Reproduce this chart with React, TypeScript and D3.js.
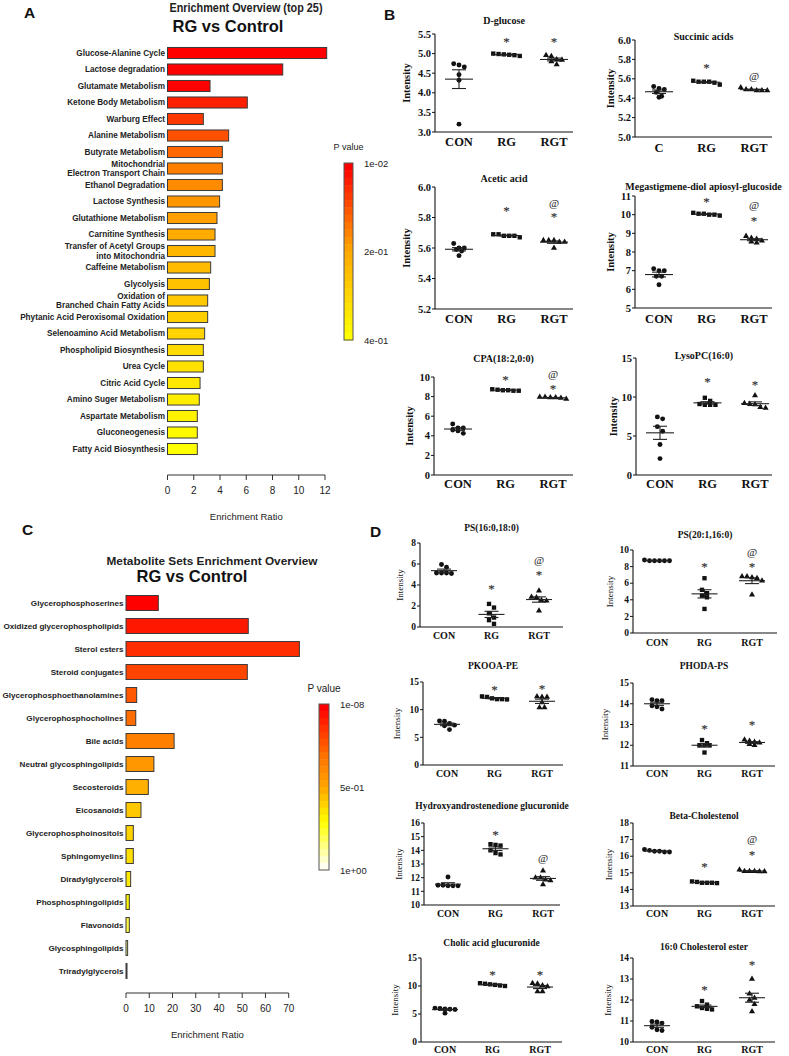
import React from 'react';
import * as d3 from 'd3';

// ---------- panel A data ----------
const pathwaysA = [
  'Glucose-Alanine Cycle', 'Lactose degradation', 'Glutamate Metabolism', 'Ketone Body Metabolism',
  'Warburg Effect', 'Alanine Metabolism', 'Butyrate Metabolism', 'Mitochondrial\nElectron Transport Chain',
  'Ethanol Degradation', 'Lactose Synthesis', 'Glutathione Metabolism', 'Carnitine Synthesis',
  'Transfer of Acetyl Groups\ninto Mitochondria', 'Caffeine Metabolism', 'Glycolysis',
  'Oxidation of\nBranched Chain Fatty Acids', 'Phytanic Acid Peroxisomal Oxidation',
  'Selenoamino Acid Metabolism', 'Phospholipid Biosynthesis', 'Urea Cycle', 'Citric Acid Cycle',
  'Amino Suger Metabolism', 'Aspartate Metabolism', 'Gluconeogenesis', 'Fatty Acid Biosynthesis',
];
const ratiosA = [
  12.13, 8.78, 3.24, 6.08, 2.73, 4.66, 4.18, 4.18, 4.18, 3.97, 3.77, 3.62, 3.62,
  3.29, 3.19, 3.06, 3.06, 2.83, 2.73, 2.73, 2.48, 2.42, 2.27, 2.27, 2.27,
];
const ticksA = [0, 2, 4, 6, 8, 10, 12];
const legendA = ['1e-02', '2e-01', '4e-01'];

// ---------- panel C data ----------
const setsC = [
  'Glycerophosphoserines', 'Oxidized glycerophospholipids', 'Sterol esters', 'Steroid conjugates',
  'Glycerophosphoethanolamines', 'Glycerophosphocholines', 'Bile acids', 'Neutral glycosphingolipids',
  'Secosteroids', 'Eicosanoids', 'Glycerophosphoinositols', 'Sphingomyelins', 'Diradylglycerols',
  'Phosphosphingolipids', 'Flavonoids', 'Glycosphingolipids', 'Triradylglycerols',
];
const ratiosC = [13.9, 52.6, 74.6, 52.2, 4.6, 4.2, 20.7, 12.0, 9.6, 6.45, 3.15, 3.15, 2.0, 1.43, 1.43, 0.7, 0.43];
const ticksC = [0, 10, 20, 30, 40, 50, 60, 70];
const legendC = ['1e-08', '5e-01', '1e+00'];

// ---------- panel B / D data (CON, RG, RGT; n = 6) ----------
const groups = ['CON', 'RG', 'RGT'];
const groupsSuccinic = ['C', 'RG', 'RGT'];

const dGlucose = [[4.74, 4.71, 4.66, 4.46, 4.32, 3.2], [4.99, 4.98, 4.96, 4.94, 4.97, 5.0], [4.96, 4.93, 4.85, 4.8, 4.72, 4.84]];
const dGlucoseStar = [null, 5.37, 5.37];
const dGlucoseAt = [null, null, null];

const succinic = [[5.5, 5.49, 5.52, 5.46, 5.41, 5.42], [5.57, 5.57, 5.56, 5.54, 5.57, 5.58], [5.49, 5.48, 5.48, 5.48, 5.49, 5.51]];
const succinicStar = [null, 5.74, null];
const succinicAt = [null, null, 5.62];

const acetic = [[5.63, 5.6, 5.59, 5.6, 5.58, 5.55], [5.69, 5.68, 5.68, 5.67, 5.68, 5.69], [5.65, 5.65, 5.64, 5.64, 5.65, 5.6]];
const aceticStar = [null, 5.86, 5.82];
const aceticAt = [null, null, 5.89];

const megastigmene = [[7.0, 7.1, 7.0, 6.7, 6.7, 6.25], [10.05, 10.0, 9.95, 10.0, 10.05, 10.1], [8.85, 8.7, 8.5, 8.6, 8.55, 8.75]];
const megastigmeneStar = [null, 10.8, 9.8];
const megastigmeneAt = [null, null, 10.5];

const cpa = [[5.2, 4.8, 4.8, 4.6, 4.25, 4.5], [8.7, 8.65, 8.6, 8.6, 8.65, 8.75], [7.95, 7.9, 7.75, 7.85, 7.9, 7.95]];
const cpaStar = [null, 9.9, 9.0];
const cpaAt = [null, null, 10.2];

const lysoPC = [[7.45, 7.2, 6.2, 5.6, 3.9, 2.1], [9.5, 9.9, 9.0, 9.0, 9.0, 9.1], [10.2, 9.2, 9.05, 8.7, 8.6, 9.1]];
const lysoPCStar = [null, 12.2, 11.9];
const lysoPCAt = [null, null, null];

const ps16 = [[5.95, 5.7, 5.15, 5.15, 5.15, 5.1], [2.2, 1.85, 1.3, 0.9, 0.65, 0.3], [3.45, 2.85, 2.8, 2.55, 2.5, 1.55]];
const ps16Star = [null, 3.9, 5.2];
const ps16At = [null, null, 6.3];

const ps20 = [[8.7, 8.7, 8.7, 8.7, 8.7, 8.8], [6.6, 5.2, 4.8, 4.5, 4.3, 2.9], [6.8, 6.8, 6.7, 6.6, 6.3, 4.6]];
const ps20Star = [null, 8.2, 8.2];
const ps20At = [null, null, 9.7];

const pkooa = [[7.9, 7.95, 7.5, 7.2, 7.1, 6.4], [12.3, 11.9, 11.85, 11.9, 12.05, 12.4], [12.3, 12.3, 12.4, 11.3, 10.4, 10.4]];
const pkooaStar = [null, 14.0, 14.1];
const pkooaAt = [null, null, null];

const phoda = [[14.2, 14.15, 14.15, 13.9, 13.75, 13.85], [12.1, 12.25, 12.0, 12.0, 12.0, 11.65], [12.2, 12.27, 12.16, 12.05, 12.0, 12.12]];
const phodaStar = [null, 12.92, 13.08];
const phodaAt = [null, null, null];

const hydroxy = [[12.05, 11.45, 11.4, 11.4, 11.45, 11.4], [14.4, 14.35, 14.45, 14.0, 13.7, 13.8], [12.5, 12.0, 11.85, 11.8, 12.0, 11.5]];
const hydroxyStar = [null, 15.27, null];
const hydroxyAt = [null, null, 13.4];

const betaChol = [[16.35, 16.3, 16.25, 16.25, 16.3, 16.4], [14.45, 14.4, 14.38, 14.4, 14.4, 14.48], [15.1, 15.08, 15.1, 15.08, 15.1, 15.18]];
const betaCholStar = [null, 15.5, 16.2];
const betaCholAt = [null, null, 17.0];

const cholic = [[5.8, 6.05, 5.9, 6.0, 5.15, 5.85], [10.4, 10.3, 10.1, 10.0, 10.2, 10.5], [10.4, 10.5, 9.9, 9.0, 9.0, 10.1]];
const cholicStar = [null, 12.4, 12.4];
const cholicAt = [null, null, null];

const cholEster = [[10.95, 10.9, 10.98, 10.7, 10.58, 10.55], [11.95, 11.62, 11.7, 11.78, 11.55, 11.58], [13.0, 12.3, 12.1, 12.0, 11.8, 11.45]];
const cholEsterStar = [null, 12.6, 13.8];
const cholEsterAt = [null, null, null];

const SANS = "'Liberation Sans', Arial, sans-serif";
const SERIF = "'Liberation Serif', 'Times New Roman', serif";

const colorA = d3.scaleLinear<string>()
  .domain([0, 2, 3, 7, 12, 24])
  .range(['#ff0000', '#ff0000', '#ff2000', '#ff8000', '#ffb600', '#ffff00']);
const colorC = d3.scaleLinear<string>()
  .domain([0, 3, 6, 9, 13, 16])
  .range(['#ff0000', '#ff4400', '#ff8000', '#ffc800', '#fff400', '#ffffc8']);
const legendColorA = d3.scaleLinear<string>().domain([0, 0.5, 1]).range(['#ff0000', '#ffa800', '#ffff00']);
const legendColorC = d3.scaleLinear<string>()
  .domain([0, 0.3, 0.5, 0.72, 1])
  .range(['#ff0000', '#ff7000', '#ffa500', '#ffff00', '#fffff0']);

interface BarProps {
  names: string[]; values: number[]; maxX: number; ticks: number[];
  x0: number; x1: number; y0: number; y1: number; pad: number;
  color: (i: number) => string; axisY: number; fontSize: number;
}

function BarPanel({ names, values, maxX, ticks, x0, x1, y0, y1, pad, color, axisY, fontSize }: BarProps) {
  const x = d3.scaleLinear().domain([0, maxX]).range([x0, x1]);
  const y = d3.scaleBand().domain(names).range([y0, y1]).paddingInner(pad).paddingOuter(pad / 2);
  return (
    <g>
      {names.map((n, i) => {
        const lines = n.split('\n');
        const cy = (y(n) as number) + y.bandwidth() / 2;
        const ty = cy + fontSize * 0.36 - (lines.length - 1) * 4.9;
        return (
          <g key={n}>
            <rect x={x(0)} y={y(n)} width={Math.max(x(values[i]) - x(0), 0.5)} height={y.bandwidth()}
              fill={color(i)} stroke="#3a3a3a" strokeWidth={1} />
            <text y={ty} textAnchor="end" fontFamily={SANS} fontWeight="bold" fontSize={fontSize} fill="#222">
              {lines.map((l, k) => <tspan key={k} x={x(0) - 2.5} dy={k === 0 ? 0 : 9.8}>{l}</tspan>)}
            </text>
          </g>
        );
      })}
      <line x1={x(0)} x2={x(maxX)} y1={axisY} y2={axisY} stroke="#333" />
      {ticks.map(t => (
        <g key={t}>
          <line x1={x(t)} x2={x(t)} y1={axisY} y2={axisY + 5} stroke="#333" />
          <text x={x(t)} y={axisY + 19} textAnchor="middle" fontFamily={SANS} fontSize={10} fill="#222">{t}</text>
        </g>
      ))}
      <text x={(x(0) + x(maxX)) / 2} y={axisY + 45} textAnchor="middle" fontFamily={SANS} fontSize={9.5} fill="#222">Enrichment Ratio</text>
    </g>
  );
}

function Legend({ x, y0, y1, w, color, labels, titleY, fontSize }:
  { x: number; y0: number; y1: number; w: number; color: (t: number) => string; labels: string[]; titleY: number; fontSize: number }) {
  const steps = d3.range(24);
  const h = (y1 - y0) / steps.length;
  const ly = d3.scaleLinear().domain([0, labels.length - 1]).range([y0, y1]);
  return (
    <g>
      <text x={x + w / 2} y={titleY} textAnchor="middle" fontFamily={SANS} fontSize={fontSize} fill="#222">P value</text>
      {steps.map(s => <rect key={s} x={x} y={y0 + s * h} width={w} height={h + 0.5} fill={color(s / (steps.length - 1))} />)}
      <rect x={x} y={y0} width={w} height={y1 - y0} fill="none" stroke="#555" />
      {labels.map((l, i) => (
        <text key={l} x={x + w + 11} y={ly(i) + 3.5} fontFamily={SANS} fontSize={9.5} fill="#222">{l}</text>
      ))}
    </g>
  );
}

interface DotProps {
  title: string; cats: string[]; data: number[][]; star: (number | null)[]; at: (number | null)[];
  domain: [number, number]; ticks: number[]; fmt: string;
  x0: number; x1: number; yTop: number; yBot: number; titleY: number; labelY: number; ylabelX: number; big: boolean;
}

function swarm(vals: number[], py: (v: number) => number, cx: number, gap: number) {
  const order = vals.map((_, i) => i).sort((a, b) => vals[b] - vals[a]);
  const rows: { y0: number; items: number[] }[] = [];
  order.forEach(i => {
    const yy = py(vals[i]);
    const last = rows[rows.length - 1];
    if (last && Math.abs(yy - last.y0) < gap * 0.9) last.items.push(i);
    else rows.push({ y0: yy, items: [i] });
  });
  const out: { x: number; y: number }[] = [];
  rows.forEach(r => r.items.forEach((i, k) => out.push({ x: cx + (k - (r.items.length - 1) / 2) * gap, y: py(vals[i]) })));
  return out;
}

const symbols = [d3.symbolCircle, d3.symbolSquare, d3.symbolTriangle];

function DotPlot(p: DotProps) {
  const x = d3.scalePoint<number>().domain([0, 1, 2]).range([p.x0 + 24, p.x0 + 119]);
  const y = d3.scaleLinear().domain(p.domain).range([p.yBot, p.yTop]);
  const f = d3.format(p.fmt);
  const tickFs = p.big ? 10.5 : 9.5;
  const catFs = p.big ? 12.5 : 10;
  const titleFs = p.big ? 10 : 9.5;
  const gap = p.big ? 5.3 : 5;
  const half = p.big ? 14 : 13;
  const mid = (p.yTop + p.yBot) / 2;
  return (
    <g fontFamily={SERIF} fill="#111">
      <text x={(p.x0 + p.x1) / 2} y={p.titleY} textAnchor="middle" fontWeight="bold" fontSize={titleFs}>{p.title}</text>
      <line x1={p.x0} x2={p.x0} y1={p.yTop} y2={p.yBot} stroke="#111" strokeWidth={1.1} />
      <line x1={p.x0} x2={p.x1} y1={p.yBot} y2={p.yBot} stroke="#111" strokeWidth={1.1} />
      {p.ticks.map(t => (
        <g key={t}>
          <line x1={p.x0 - 3} x2={p.x0} y1={y(t)} y2={y(t)} stroke="#111" />
          <text x={p.x0 - 4} y={y(t) + tickFs * 0.34} textAnchor="end" fontWeight="bold" fontSize={tickFs}>{f(t)}</text>
        </g>
      ))}
      <text transform={`translate(${p.ylabelX},${mid}) rotate(-90)`} textAnchor="middle"
        fontWeight={p.big ? 'bold' : 'normal'} fontSize={p.big ? 10.5 : 9}>Intensity</text>
      {p.cats.map((c, i) => (
        <text key={c} x={x(i)} y={p.labelY} textAnchor="middle" fontWeight="bold" fontSize={catFs}>{c}</text>
      ))}
      {p.data.map((vals, gi) => {
        const cx = x(gi) as number;
        const m = d3.mean(vals) as number;
        const sem = (d3.deviation(vals) as number) / Math.sqrt(vals.length);
        const pts = swarm(vals, y, cx, gap);
        const sym = d3.symbol().type(symbols[gi]).size(gi === 2 ? 16 : 19)();
        return (
          <g key={gi}>
            {pts.map((pt, k) => <path key={k} d={sym as string} transform={`translate(${pt.x},${pt.y})`} fill="#111" />)}
            <line x1={cx - half} x2={cx + half} y1={y(m)} y2={y(m)} stroke="#222" strokeWidth={1.1} />
            <line x1={cx} x2={cx} y1={y(m - sem)} y2={y(m + sem)} stroke="#222" strokeWidth={1.1} />
            <line x1={cx - 7} x2={cx + 7} y1={y(m - sem)} y2={y(m - sem)} stroke="#222" strokeWidth={1.1} />
            <line x1={cx - 7} x2={cx + 7} y1={y(m + sem)} y2={y(m + sem)} stroke="#222" strokeWidth={1.1} />
            {p.star[gi] != null && (
              <text x={cx} y={y(p.star[gi] as number) + 6.5} textAnchor="middle" fontSize={13}
                fill="#333" stroke="#333" strokeWidth={0.15}>*</text>
            )}
            {p.at[gi] != null && (
              <text x={cx} y={y(p.at[gi] as number) + 3.2} textAnchor="middle" fontSize={11}
                fill="#333" stroke="#333" strokeWidth={0.1}>@</text>
            )}
          </g>
        );
      })}
    </g>
  );
}

const range = (a: number, b: number, s: number) => d3.range(a, b + s / 2, s);

export default function App() {
  const plots: DotProps[] = [
    { title: 'D-glucose', cats: groups, data: dGlucose, star: dGlucoseStar, at: dGlucoseAt, domain: [3, 5.5], ticks: range(3, 5.5, 0.5), fmt: '.1f',
      x0: 435, x1: 573, yTop: 34, yBot: 132, titleY: 24, labelY: 146, ylabelX: 410, big: true },
    { title: 'Succinic acids', cats: groupsSuccinic, data: succinic, star: succinicStar, at: succinicAt, domain: [5, 6], ticks: range(5, 6, 0.2), fmt: '.1f',
      x0: 635, x1: 772, yTop: 40, yBot: 137, titleY: 40, labelY: 152, ylabelX: 614, big: true },
    { title: 'Acetic acid', cats: groups, data: acetic, star: aceticStar, at: aceticAt, domain: [5.2, 6.0], ticks: range(5.2, 6.0, 0.2), fmt: '.1f',
      x0: 435, x1: 573, yTop: 187, yBot: 309, titleY: 182, labelY: 323, ylabelX: 410, big: true },
    { title: 'Megastigmene-diol apiosyl-glucoside', cats: groups, data: megastigmene, star: megastigmeneStar, at: megastigmeneAt, domain: [5, 11], ticks: range(5, 11, 1), fmt: 'd',
      x0: 635, x1: 772, yTop: 196, yBot: 308, titleY: 190, labelY: 323, ylabelX: 614, big: true },
    { title: 'CPA(18:2,0:0)', cats: groups, data: cpa, star: cpaStar, at: cpaAt, domain: [0, 10], ticks: range(0, 10, 2), fmt: 'd',
      x0: 434, x1: 573, yTop: 377, yBot: 475, titleY: 362, labelY: 488, ylabelX: 413, big: true },
    { title: 'LysoPC(16:0)', cats: groups, data: lysoPC, star: lysoPCStar, at: lysoPCAt, domain: [0, 15], ticks: range(0, 15, 5), fmt: 'd',
      x0: 636, x1: 772, yTop: 358, yBot: 475, titleY: 359, labelY: 488, ylabelX: 617, big: true },

    { title: 'PS(16:0,18:0)', cats: groups, data: ps16, star: ps16Star, at: ps16At, domain: [0, 8], ticks: range(0, 8, 2), fmt: 'd',
      x0: 420, x1: 563, yTop: 543, yBot: 627, titleY: 531, labelY: 639, ylabelX: 403, big: false },
    { title: 'PS(20:1,16:0)', cats: groups, data: ps20, star: ps20Star, at: ps20At, domain: [0, 10], ticks: range(0, 10, 2), fmt: 'd',
      x0: 633, x1: 777, yTop: 550, yBot: 633, titleY: 538, labelY: 646, ylabelX: 613, big: false },
    { title: 'PKOOA-PE', cats: groups, data: pkooa, star: pkooaStar, at: pkooaAt, domain: [0, 15], ticks: range(0, 15, 5), fmt: 'd',
      x0: 423, x1: 563, yTop: 682, yBot: 765, titleY: 669, labelY: 777, ylabelX: 400, big: false },
    { title: 'PHODA-PS', cats: groups, data: phoda, star: phodaStar, at: phodaAt, domain: [11, 15], ticks: range(11, 15, 1), fmt: 'd',
      x0: 633, x1: 775, yTop: 683, yBot: 766, titleY: 669, labelY: 777, ylabelX: 608, big: false },
    { title: 'Hydroxyandrostenedione glucuronide', cats: groups, data: hydroxy, star: hydroxyStar, at: hydroxyAt, domain: [10, 16], ticks: range(10, 16, 1), fmt: 'd',
      x0: 424, x1: 560, yTop: 823, yBot: 905, titleY: 809, labelY: 917, ylabelX: 402, big: false },
    { title: 'Beta-Cholestenol', cats: groups, data: betaChol, star: betaCholStar, at: betaCholAt, domain: [13, 18], ticks: range(13, 18, 1), fmt: 'd',
      x0: 633, x1: 775, yTop: 823, yBot: 906, titleY: 819, labelY: 917, ylabelX: 612, big: false },
    { title: 'Cholic acid glucuronide', cats: groups, data: cholic, star: cholicStar, at: cholicAt, domain: [0, 15], ticks: range(0, 15, 5), fmt: 'd',
      x0: 421, x1: 562, yTop: 958, yBot: 1042, titleY: 946, labelY: 1053, ylabelX: 398, big: false },
    { title: '16:0 Cholesterol ester', cats: groups, data: cholEster, star: cholEsterStar, at: cholEsterAt, domain: [10, 14], ticks: range(10, 14, 1), fmt: 'd',
      x0: 633, x1: 775, yTop: 958, yBot: 1042, titleY: 950, labelY: 1053, ylabelX: 611, big: false },
  ];

  return (
    <div style={{ position: 'absolute', left: 0, top: 0 }}>
      <svg width={789} height={1056} viewBox="0 0 789 1056" style={{ display: 'block', background: '#fff' }}>
        {/* panel letters */}
        <g fontFamily={SANS} fontWeight="bold" fontSize={15.5} fill="#111">
          <text x={24} y={18}>A</text>
          <text x={384} y={20}>B</text>
          <text x={22} y={535}>C</text>
          <text x={370} y={537}>D</text>
        </g>

        {/* A */}
        <text x={246} y={12} textAnchor="middle" fontFamily={SANS} fontWeight="bold" fontSize={12.5}
          textLength={153} lengthAdjust="spacingAndGlyphs" fill="#222">Enrichment Overview (top 25)</text>
        <text x={228} y={32} textAnchor="middle" fontFamily={SANS} fontWeight="bold" fontSize={16.5} fill="#111">RG vs Control</text>
        <BarPanel names={pathwaysA} values={ratiosA} maxX={12} ticks={ticksA} x0={167.5} x1={325}
          y0={44.75} y1={457.25} pad={0.33} color={colorA} axisY={475} fontSize={8.2} />
        <Legend x={344} y0={163} y1={340} w={9} color={legendColorA} labels={legendA} titleY={150} fontSize={9} />

        {/* C */}
        <text x={212} y={565} textAnchor="middle" fontFamily={SANS} fontWeight="bold" fontSize={11.5}
          textLength={211} lengthAdjust="spacingAndGlyphs" fill="#222">Metabolite Sets Enrichment Overview</text>
        <text x={192} y={582} textAnchor="middle" fontFamily={SANS} fontWeight="bold" fontSize={16.5} fill="#111">RG vs Control</text>
        <BarPanel names={setsC} values={ratiosC} maxX={70} ticks={ticksC} x0={126} x1={288.7}
          y0={591.5} y1={982.5} pad={0.35} color={colorC} axisY={993} fontSize={8.1} />
        <Legend x={319} y0={704} y1={870} w={10} color={legendColorC} labels={legendC} titleY={692} fontSize={10} />

        {/* B and D */}
        {plots.map(p => <DotPlot key={p.title} {...p} />)}
      </svg>
    </div>
  );
}
